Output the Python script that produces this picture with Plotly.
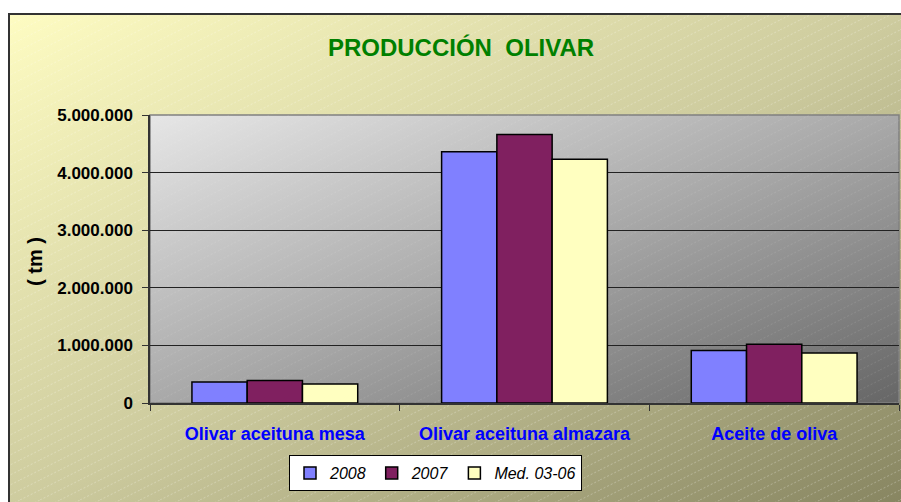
import base64
import plotly.graph_objects as go

categories = ["Olivar aceituna mesa", "Olivar aceituna almazara", "Aceite de oliva"]
series_names = ["2008", "2007", "Med. 03-06"]
v2008 = [365000, 4360000, 910000]
v2007 = [390000, 4660000, 1020000]
vmed = [330000, 4230000, 870000]
tick_vals = [0, 1000000, 2000000, 3000000, 4000000, 5000000]

colors = ["#8080ff", "#802060", "#ffffc0"]

W, H = 901, 502
L, R, T, B = 150, 2, 115, 99
PW, PH = W - L - R, H - T - B

svg = f'''<svg xmlns="http://www.w3.org/2000/svg" width="{W}" height="{H}" viewBox="0 0 {W} {H}" preserveAspectRatio="none">
<defs>
<linearGradient id="bg" x1="0" y1="0" x2="1" y2="1">
<stop offset="0" stop-color="#fefcc2"/>
<stop offset="0.5" stop-color="#cdcb9e"/>
<stop offset="1" stop-color="#85835f"/>
</linearGradient>
<linearGradient id="pa" x1="0" y1="0" x2="1" y2="1">
<stop offset="0" stop-color="#e6e6e6"/>
<stop offset="0.5" stop-color="#a9a9a9"/>
<stop offset="1" stop-color="#666666"/>
</linearGradient>
<pattern id="hatch" width="20" height="10" patternUnits="userSpaceOnUse">
<line x1="0" y1="10" x2="20" y2="0" stroke="#ffffff" stroke-opacity="0.35" stroke-width="0.8" stroke-dasharray="2,2"/>
</pattern>
</defs>
<rect x="0" y="0" width="{W}" height="{H}" fill="#ffffff"/>
<rect x="8" y="13" width="{W}" height="{H}" fill="url(#bg)"/>
<rect x="8" y="13" width="{W}" height="{H}" fill="url(#hatch)"/>
<line x1="9" y1="13" x2="9" y2="{H}" stroke="#333333" stroke-width="2"/>
<line x1="8" y1="14" x2="{W}" y2="14" stroke="#333333" stroke-width="2"/>
<rect x="{L}" y="{T}" width="{PW}" height="{PH}" fill="url(#pa)" stroke="#808080" stroke-width="1.5"/>
<rect x="{L}" y="{T}" width="{PW}" height="{PH}" fill="url(#hatch)" opacity="0.4"/>
</svg>'''
src = "data:image/svg+xml;base64," + base64.b64encode(svg.encode()).decode()

FONT = "Liberation Sans, Arial"

fig = go.Figure()
for name, vals, col in zip(series_names, [v2008, v2007, vmed], colors):
    fig.add_trace(go.Bar(
        x=categories, y=vals, name=name,
        marker=dict(color=col, line=dict(color="#000000", width=1.5)),
    ))

fig.update_layout(
    width=W, height=H,
    margin=dict(l=L, r=R, t=T, b=B, pad=0),
    paper_bgcolor="rgba(0,0,0,0)",
    plot_bgcolor="rgba(0,0,0,0)",
    separators=",.",
    barmode="group",
    bargap=0.336,
    bargroupgap=0,
    showlegend=True,
    title=dict(
        text="<b>PRODUCCIÓN  OLIVAR</b>",
        font=dict(family=FONT, size=24, color="#008000"),
        x=461 / W, xanchor="center", y=1 - 48 / H, yanchor="middle",
    ),
    legend=dict(
        orientation="h",
        x=(289 - L) / PW, xanchor="left",
        y=-(455 - (T + PH)) / PH, yanchor="top",
        bgcolor="#ffffff", bordercolor="#000000", borderwidth=1,
        font=dict(family=FONT, size=16, color="#000000", style="italic"),
        itemwidth=30,
    ),
    images=[dict(
        source=src, xref="paper", yref="paper",
        x=-L / PW, y=1 + T / PH, sizex=W / PW, sizey=H / PH,
        xanchor="left", yanchor="top", sizing="stretch", layer="below",
    )],
    annotations=[dict(
        text="<b>( tm )</b>", xref="paper", yref="paper",
        x=(35 - L) / PW, y=(T + PH - 262) / PH, showarrow=False,
        textangle=-90, font=dict(family=FONT, size=20, color="#000000"),
        xanchor="center", yanchor="middle",
    )],
)

fig.update_xaxes(
    type="category", tickson="boundaries",
    ticks="outside", ticklen=6, tickcolor="#333333",
    showline=True, linecolor="#333333", linewidth=1.5,
    showgrid=False,
    tickfont=dict(family=FONT, size=18, color="#0000ff", weight="bold"),
    ticklabelstandoff=14,
)
fig.update_yaxes(
    range=[0, 5000000], tickvals=tick_vals, tickformat=",d",
    ticks="outside", ticklen=6, tickcolor="#333333",
    showline=True, linecolor="#333333", linewidth=1.5,
    showgrid=True, gridcolor="#222222", gridwidth=1,
    zeroline=False,
    tickfont=dict(family=FONT, size=17, color="#000000", weight="bold"),
    ticklabelstandoff=6,
)

fig.write_html(
    "out.html",
    config={"displayModeBar": False},
    post_script="document.body.style.margin='0';document.body.style.overflow='hidden';",
)
